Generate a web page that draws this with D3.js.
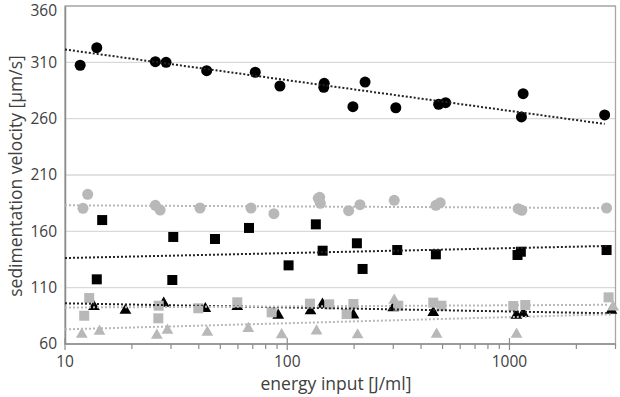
<!DOCTYPE html>
<html>
<head>
<meta charset="utf-8">
<script src="https://cdn.jsdelivr.net/npm/d3@7"></script>
<style>
  body { margin: 0; background: #fff; }
  svg text { font-family: 'Open Sans', sans-serif; fill: #404040; }
</style>
</head>
<body>
<div id="chart"></div>
<script>
// energy input [J/ml] / sedimentation velocity [µm/s]
const blackCircleX = [11.7, 13.9, 25.5, 28.5, 43.4, 71.8, 92.7, 146.7, 146, 224, 197.5, 308, 480, 516, 1152, 1132, 2681];
const blackCircleY = [307.4, 323, 310.6, 310, 302.6, 301.2, 289, 291.4, 287.8, 292.5, 270.6, 269.7, 272.7, 274.2, 282.2, 261.5, 263.3];

const greyCircleX = [12.05, 12.65, 25.5, 26.8, 40.5, 68.7, 87.1, 137.9, 140, 141, 188.9, 212.5, 303, 466.5, 488, 1094, 1137, 2735];
const greyCircleY = [180.4, 192.9, 183.1, 178.9, 180.7, 180.7, 175.7, 189.3, 190.2, 184.9, 178.3, 183.7, 187.5, 183.1, 185.4, 180.1, 178.7, 180.7];

const blackSquareX = [14.7, 13.9, 30.7, 30.4, 47.3, 67.3, 101.4, 134.5, 144.3, 205.8, 218.3, 312.6, 466.5, 1087, 1125, 2735];
const blackSquareY = [170, 117.4, 155, 116.8, 153.2, 163, 129.8, 166.2, 142.8, 149.4, 126.6, 143.4, 139.6, 139, 141.9, 143.4];

const blackTriangleX = [13.5, 18.7, 27.8, 42.8, 59.6, 91.1, 127.3, 144, 198.5, 300, 454, 1074, 1152, 2877];
const blackTriangleY = [94, 90.8, 97, 92.2, 94, 86.4, 90.2, 96.1, 86.6, 93, 88.7, 86.4, 87.8, 90.8];

const greySquareX = [12.2, 12.85, 26.4, 26.3, 39.8, 59.6, 85.1, 126.5, 154.5, 198.5, 185, 316, 454, 494, 1040, 1178, 2793];
const greySquareY = [85.1, 100.8, 94, 82.8, 91.7, 97, 88.1, 95.8, 95.2, 95.5, 86.6, 94, 96.7, 94, 93.7, 94.6, 101.4];

const greyTriangleX = [11.9, 14.3, 25.9, 28.9, 43.7, 66.8, 94.4, 135.5, 207.3, 303, 470, 1076, 2928];
const greyTriangleY = [69.5, 72.2, 68.6, 73, 71.3, 74.5, 69.1, 72.4, 68.9, 99.7, 69.5, 69.5, 93.7];

// trend lines: [x, y] at start and end
const blackCircleTrend = [[10, 321.4], [2681, 255.3]];
const greyCircleTrend = [[10, 183.1], [2735, 180.7]];
const blackSquareTrend = [[10, 136.3], [2735, 147]];
const blackTriangleTrend = [[10, 96.1], [2877, 87.2]];
const greySquareTrend = [[10, 92.4], [2793, 94.8]];
const greyTriangleTrend = [[10, 73], [2928, 86.4]];

const xTicks = [10, 100, 1000];
const yTicks = [60, 110, 160, 210, 260, 310, 360];

const width = 620;
const height = 397;
const margin = { top: 6, right: 4.5, bottom: 53, left: 65 };

const BLACK = '#000';
const GREY = '#b8b8b8';

const svg = d3.select('#chart').append('svg')
  .attr('width', width)
  .attr('height', height);

const x = d3.scaleLog()
  .domain([10, 3000])
  .range([margin.left, width - margin.right]);

const y = d3.scaleLinear()
  .domain([60, 360])
  .range([height - margin.bottom, margin.top]);

// grid
svg.append('g')
  .selectAll('line')
  .data(yTicks.slice(1))
  .enter().append('line')
  .attr('x1', margin.left)
  .attr('x2', width - margin.right)
  .attr('y1', d => y(d))
  .attr('y2', d => y(d))
  .attr('stroke', '#d9d9d9')
  .attr('stroke-width', 1.3);

// plot border
svg.append('rect')
  .attr('x', margin.left)
  .attr('y', margin.top)
  .attr('width', width - margin.right - margin.left)
  .attr('height', height - margin.bottom - margin.top)
  .attr('fill', 'none')
  .attr('stroke', '#a6a6a6')
  .attr('stroke-width', 1.3);

// y axis
const yAxis = svg.append('g')
  .attr('transform', 'translate(' + margin.left + ',0)')
  .call(d3.axisLeft(y).tickValues(yTicks).tickSize(0).tickPadding(8));
yAxis.select('.domain').attr('stroke', '#8c8c8c').attr('stroke-width', 1.5);
yAxis.selectAll('text').style('font-size', '15.5px').attr('fill', '#404040');
// keep the top label inside the picture
yAxis.selectAll('.tick')
  .filter(d => d === 360)
  .select('text')
  .attr('dy', '0.62em');

// x axis, major + minor ticks
const minorTicks = [];
[10, 100, 1000].forEach(dec => {
  for (let k = 2; k <= 9; k++) {
    if (dec * k <= 3000) minorTicks.push(dec * k);
  }
});

const xAxis = svg.append('g')
  .attr('transform', 'translate(0,' + (height - margin.bottom) + ')');
xAxis.append('line')
  .attr('x1', margin.left)
  .attr('x2', width - margin.right)
  .attr('stroke', '#8c8c8c')
  .attr('stroke-width', 1.5);
xAxis.selectAll('.minor')
  .data(minorTicks)
  .enter().append('line')
  .attr('class', 'minor')
  .attr('x1', d => x(d))
  .attr('x2', d => x(d))
  .attr('y1', 0)
  .attr('y2', 5)
  .attr('stroke', '#8c8c8c')
  .attr('stroke-width', 1.2);
xAxis.selectAll('.major')
  .data(xTicks)
  .enter().append('line')
  .attr('class', 'major')
  .attr('x1', d => x(d))
  .attr('x2', d => x(d))
  .attr('y1', -6)
  .attr('y2', 6)
  .attr('stroke', '#8c8c8c')
  .attr('stroke-width', 1.2);
xAxis.selectAll('text')
  .data(xTicks)
  .enter().append('text')
  .attr('x', d => x(d))
  .attr('y', 23)
  .attr('text-anchor', 'middle')
  .style('font-size', '15.5px')
  .text(d => d);

// axis titles
svg.append('text')
  .attr('x', 336)
  .attr('y', 390)
  .attr('text-anchor', 'middle')
  .style('font-size', '17.5px')
  .text('energy input [J/ml]');

svg.append('text')
  .attr('transform', 'translate(22,' + 176 + ') rotate(-90)')
  .attr('text-anchor', 'middle')
  .style('font-size', '17.5px')
  .text('sedimentation velocity [µm/s]');

const pts = (xs, ys) => xs.map((d, i) => [d, ys[i]]);

function circles(xs, ys, color) {
  svg.append('g').selectAll('circle')
    .data(pts(xs, ys))
    .enter().append('circle')
    .attr('cx', d => x(d[0]))
    .attr('cy', d => y(d[1]))
    .attr('r', 5.5)
    .attr('fill', color);
}

function squares(xs, ys, color) {
  const s = 10;
  svg.append('g').selectAll('rect')
    .data(pts(xs, ys))
    .enter().append('rect')
    .attr('x', d => x(d[0]) - s / 2)
    .attr('y', d => y(d[1]) - s / 2)
    .attr('width', s)
    .attr('height', s)
    .attr('fill', color);
}

function triangles(xs, ys, color) {
  const tri = d3.symbol().type(d3.symbolTriangle).size(60);
  svg.append('g').selectAll('path')
    .data(pts(xs, ys))
    .enter().append('path')
    .attr('d', tri)
    .attr('transform', d => 'translate(' + x(d[0]) + ',' + (y(d[1]) + 1) + ')')
    .attr('fill', color);
}

function trend(line, color) {
  svg.append('path')
    .datum(line)
    .attr('d', d3.line().x(d => x(d[0])).y(d => y(d[1])))
    .attr('fill', 'none')
    .attr('stroke', color)
    .attr('stroke-width', 2)
    .attr('stroke-dasharray', '2,2');
}

circles(blackCircleX, blackCircleY, BLACK);
circles(greyCircleX, greyCircleY, GREY);
squares(blackSquareX, blackSquareY, BLACK);
triangles(blackTriangleX, blackTriangleY, BLACK);
squares(greySquareX, greySquareY, GREY);
triangles(greyTriangleX, greyTriangleY, GREY);

trend(blackCircleTrend, '#222');
trend(greyCircleTrend, GREY);
trend(blackSquareTrend, '#222');
trend(blackTriangleTrend, '#222');
trend(greySquareTrend, GREY);
trend(greyTriangleTrend, GREY);
</script>
</body>
</html>
